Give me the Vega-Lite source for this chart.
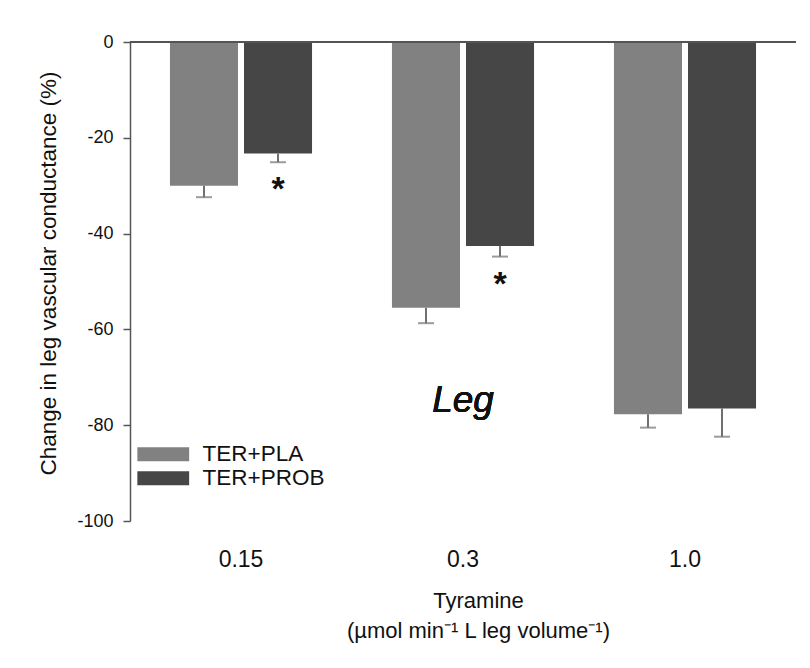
{
  "$schema": "https://vega.github.io/schema/vega-lite/v6.json",
  "width": 666,
  "height": 479,
  "autosize": {"type": "none"},
  "padding": {"left": 130, "top": 42, "right": 14, "bottom": 147},
  "background": "white",
  "config": {
    "view": {"stroke": null},
    "font": "Liberation Sans",
    "axis": {"grid": false}
  },
  "data": {
    "values": [
      {"dose": "0.15", "group": "TER+PLA", "mean": -30.0, "low": -32.4, "sig": ""},
      {"dose": "0.15", "group": "TER+PROB", "mean": -23.3, "low": -25.1, "sig": "*"},
      {"dose": "0.3", "group": "TER+PLA", "mean": -55.5, "low": -58.7, "sig": ""},
      {"dose": "0.3", "group": "TER+PROB", "mean": -42.6, "low": -44.8, "sig": "*"},
      {"dose": "1.0", "group": "TER+PLA", "mean": -77.7, "low": -80.5, "sig": ""},
      {"dose": "1.0", "group": "TER+PROB", "mean": -76.5, "low": -82.4, "sig": ""}
    ]
  },
  "encoding": {
    "x": {
      "field": "dose",
      "type": "nominal",
      "sort": ["0.15", "0.3", "1.0"],
      "scale": {"paddingInner": 0.36, "paddingOuter": 0.18},
      "axis": {
        "labelAngle": 0,
        "domain": false,
        "ticks": false,
        "tickSize": 0,
        "labelPadding": 27,
        "labelFontSize": 23,
        "labelColor": "#111",
        "title": ["Tyramine", "(µmol min⁻¹ L leg volume⁻¹)"],
        "titleFontSize": 22,
        "titleFontWeight": "normal",
        "titleColor": "#111",
        "titlePadding": 19,
        "titleLineHeight": 30,
        "titleX": 348
      }
    },
    "xOffset": {
      "field": "group",
      "type": "nominal",
      "scale": {"paddingInner": 0.081, "paddingOuter": 0}
    }
  },
  "layer": [
    {
      "mark": {"type": "bar"},
      "encoding": {
        "y": {
          "field": "mean",
          "type": "quantitative",
          "scale": {"domain": [-100, 0], "nice": false},
          "axis": {
            "values": [-100, -80, -60, -40, -20, 0],
            "labelExpr": "replace(datum.label, '−', '-')",
            "tickSize": 7,
            "tickColor": "#555",
            "tickWidth": 1.5,
            "domainColor": "#555",
            "domainWidth": 1.5,
            "labelPadding": 10,
            "labelFontSize": 18,
            "labelColor": "#111",
            "title": "Change in leg vascular conductance (%)",
            "titleFontSize": 22.5,
            "titleFontWeight": "normal",
            "titleColor": "#111",
            "titlePadding": 16,
            "titleY": 231
          }
        },
        "y2": {"datum": 0},
        "color": {
          "field": "group",
          "type": "nominal",
          "scale": {"domain": ["TER+PLA", "TER+PROB"], "range": ["#818181", "#464646"]},
          "legend": {
            "title": null,
            "orient": "none",
            "legendX": 22,
            "legendY": 401,
            "padding": 0,
            "symbolType": "M-3.7,-1H3.7V1H-3.7Z",
            "symbolSize": 196,
            "symbolStrokeWidth": 0,
            "labelFontSize": 22.5,
            "labelColor": "#111",
            "labelOffset": 28,
            "rowPadding": 1
          }
        }
      }
    },
    {
      "mark": {"type": "rule", "color": "#707070", "strokeWidth": 2},
      "encoding": {
        "y": {"field": "mean", "type": "quantitative"},
        "y2": {"field": "low"}
      }
    },
    {
      "mark": {"type": "tick", "color": "#707070", "thickness": 2, "size": 16},
      "encoding": {
        "y": {"field": "low", "type": "quantitative"}
      }
    },
    {
      "transform": [{"filter": "datum.sig != ''"}],
      "mark": {"type": "text", "fontSize": 34, "fontWeight": "bold", "color": "#111", "baseline": "alphabetic", "dy": 38},
      "encoding": {
        "y": {"field": "low", "type": "quantitative"},
        "text": {"field": "sig"}
      }
    },
    {
      "mark": {"type": "rule", "color": "#555", "strokeWidth": 1.5},
      "encoding": {
        "y": {"datum": 0},
        "x": null,
        "xOffset": null
      }
    },
    {
      "mark": {"type": "text", "fontSize": 37, "fontStyle": "italic", "color": "#111", "baseline": "alphabetic", "align": "center"},
      "encoding": {
        "x": {"datum": "0.3"},
        "xOffset": null,
        "y": {"datum": -77.2},
        "text": {"value": "Leg"}
      }
    }
  ]
}
